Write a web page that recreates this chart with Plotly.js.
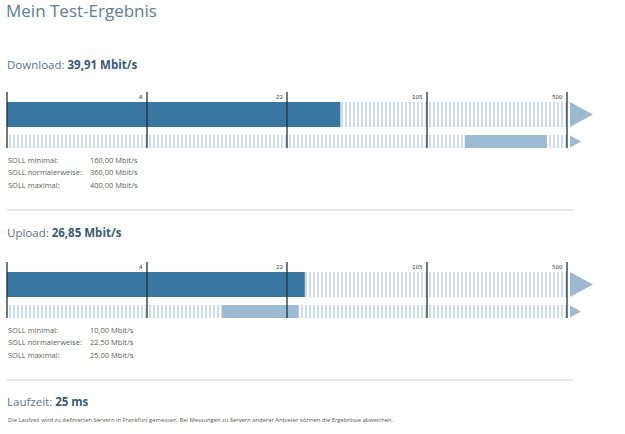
<!DOCTYPE html>
<html>
<head>
<meta charset="utf-8">
<script src="https://cdn.plot.ly/plotly-3.0.1.min.js"></script>
<style>html,body{margin:0;padding:0;background:#fff;}#chart{width:625px;height:434px;}</style>
</head>
<body>
<div id="chart"></div>
<script>
// ---- data ----
const sections = ['Download', 'Upload'];
const measured = [39.91, 26.85];          // Mbit/s
const sollMin = [160, 10];
const sollNormal = [360, 22.5];
const sollMax = [400, 25];
const scaleTicks = [0, 4, 22, 105, 500];  // scale break points
const rowCats = ['Messung', 'SOLL'];
const sollLabels = ['SOLL minimal:', 'SOLL normalerweise:', 'SOLL maximal:'];
const latencyMs = 25;
const mainTitle = 'Mein Test-Ergebnis';
const footnote = 'Die Laufzeit wird zu definierten Servern in Frankfurt gemessen. Bei Messungen zu Servern anderer Anbieter können die Ergebnisse abweichen.';

// ---- helpers ----
const W = 625, H = 434;
function seg(v) {
  for (let i = 0; i < scaleTicks.length - 1; i++) {
    const a = scaleTicks[i], b = scaleTicks[i + 1];
    if (v <= b || i === scaleTicks.length - 2) {
      if (a === 0) return v / b;
      return i + Math.log(v / a) / Math.log(b / a);
    }
  }
}
function de(v) { return v.toFixed(2).replace('.', ','); }
const px = x => x / W;
const py = y => 1 - y / H;

const C_MAIN = '#3a76a2', C_STRIPE = '#a3bbcd', C_SOLL = '#9dbbd2', C_TRI = '#9cb9d0';
const C_LINE = '#22303a';
const FONT = 'Open Sans, sans-serif';

const traces = [], shapes = [], annotations = [];
const sectionTop = [92, 262];   // pixel top of each bar block
const headOff = [27, 29];
const blockH = 56;
const layout = {
  width: W, height: H, margin: {l: 0, r: 0, t: 0, b: 0},
  paper_bgcolor: '#fff', plot_bgcolor: 'rgba(0,0,0,0)',
  barmode: 'overlay', showlegend: false,
  font: {family: FONT}
};

sections.forEach((name, i) => {
  const xa = i === 0 ? 'x' : 'x2', ya = i === 0 ? 'y' : 'y2';
  const xk = i === 0 ? 'xaxis' : 'xaxis2', yk = i === 0 ? 'yaxis' : 'yaxis2';
  const top = sectionTop[i];
  layout[xk] = {domain: [0, 1], range: [-7 / 140, 618 / 140], visible: false, fixedrange: true, anchor: ya};
  layout[yk] = {domain: [py(top + blockH), py(top)], type: 'category', categoryarray: rowCats,
    range: [1 + 6.5 / 27, -22.5 / 27], visible: false, fixedrange: true, anchor: xa};

  const full = seg(scaleTicks[scaleTicks.length - 1]);
  // striped background
  traces.push({type: 'bar', orientation: 'h', xaxis: xa, yaxis: ya, y: rowCats, x: [full, full], base: 0,
    width: [25 / 27, 13 / 27],
    marker: {color: '#ffffff', line: {width: 0},
      pattern: {shape: '|', fgcolor: C_STRIPE, bgcolor: '#ffffff', size: 4, solidity: 0.55, fillmode: 'overlay'}},
    hoverinfo: 'skip'});
  // measured
  traces.push({type: 'bar', orientation: 'h', xaxis: xa, yaxis: ya, y: [rowCats[0]], x: [seg(measured[i])], base: 0,
    width: [25 / 27], marker: {color: C_MAIN, line: {width: 0}}, hoverinfo: 'skip'});
  // SOLL range
  traces.push({type: 'bar', orientation: 'h', xaxis: xa, yaxis: ya, y: [rowCats[1]],
    base: [seg(sollMin[i])], x: [seg(sollMax[i]) - seg(sollMin[i])],
    width: [13 / 27], marker: {color: C_SOLL, line: {width: 0}}, hoverinfo: 'skip'});

  // tick lines + labels
  scaleTicks.forEach(t => {
    shapes.push({type: 'line', xref: xa, yref: ya + ' domain', x0: seg(t), x1: seg(t), y0: 0, y1: 1,
      line: {color: C_LINE, width: 1.3}, layer: 'above'});
    if (t > 0) annotations.push({xref: xa, yref: ya + ' domain', x: seg(t), y: 1, xanchor: 'right', yanchor: 'top',
      xshift: -2, yshift: 0, text: String(t), showarrow: false, font: {size: 5.5, color: '#333', family: 'DejaVu Sans'}});
  });
  // arrow heads
  shapes.push({type: 'path', xref: xa, yref: ya, xsizemode: 'pixel', ysizemode: 'pixel', xanchor: full, yanchor: 0,
    path: 'M3,-12.5L26,0L3,12.5Z', fillcolor: C_TRI, line: {width: 0}, layer: 'above'});
  shapes.push({type: 'path', xref: xa, yref: ya, xsizemode: 'pixel', ysizemode: 'pixel', xanchor: full, yanchor: 1,
    path: 'M3,-6L14,0L3,6Z', fillcolor: C_TRI, line: {width: 0}, layer: 'above'});

  // heading
  annotations.push({xref: 'paper', yref: 'paper', x: px(5), y: py(top - headOff[i]), xanchor: 'left', yanchor: 'middle',
    showarrow: false, text: name + ': <b><span style="color:#3a5a72">' + de(measured[i]) + ' Mbit/s</span></b>',
    font: {size: 11.5, color: '#5b7489', family: FONT}});
  // SOLL text
  const vals = [sollMin[i], sollNormal[i], sollMax[i]];
  sollLabels.forEach((lab, k) => {
    const yy = top + 67.5 + k * 12.7;
    annotations.push({xref: 'paper', yref: 'paper', x: px(5.5), y: py(yy), xanchor: 'left', yanchor: 'middle',
      showarrow: false, text: lab, font: {size: 7.5, color: '#5e5e5e', family: FONT}});
    annotations.push({xref: 'paper', yref: 'paper', x: px(87.5), y: py(yy), xanchor: 'left', yanchor: 'middle',
      showarrow: false, text: de(vals[k]) + ' Mbit/s', font: {size: 7.5, color: '#5e5e5e', family: FONT}});
  });
  // separator
  shapes.push({type: 'line', xref: 'paper', yref: 'paper', x0: px(7), x1: px(573), y0: py(top + 118), y1: py(top + 118),
    line: {color: '#d2d2d2', width: 1}});
});

// main title
annotations.push({xref: 'paper', yref: 'paper', x: px(4), y: py(10), xanchor: 'left', yanchor: 'middle', showarrow: false,
  text: mainTitle, font: {size: 17, color: '#607d92', family: FONT}});
// latency
annotations.push({xref: 'paper', yref: 'paper', x: px(5), y: py(401), xanchor: 'left', yanchor: 'middle', showarrow: false,
  text: 'Laufzeit: <b><span style="color:#3a5a72">' + latencyMs + ' ms</span></b>', font: {size: 11.5, color: '#5b7489', family: FONT}});
annotations.push({xref: 'paper', yref: 'paper', x: px(5.5), y: py(419.5), xanchor: 'left', yanchor: 'middle', showarrow: false,
  text: footnote, font: {size: 5.8, color: '#555', family: FONT}});

layout.shapes = shapes;
layout.annotations = annotations;
Plotly.newPlot('chart', traces, layout, {staticPlot: true, displayModeBar: false});
</script>
</body>
</html>
